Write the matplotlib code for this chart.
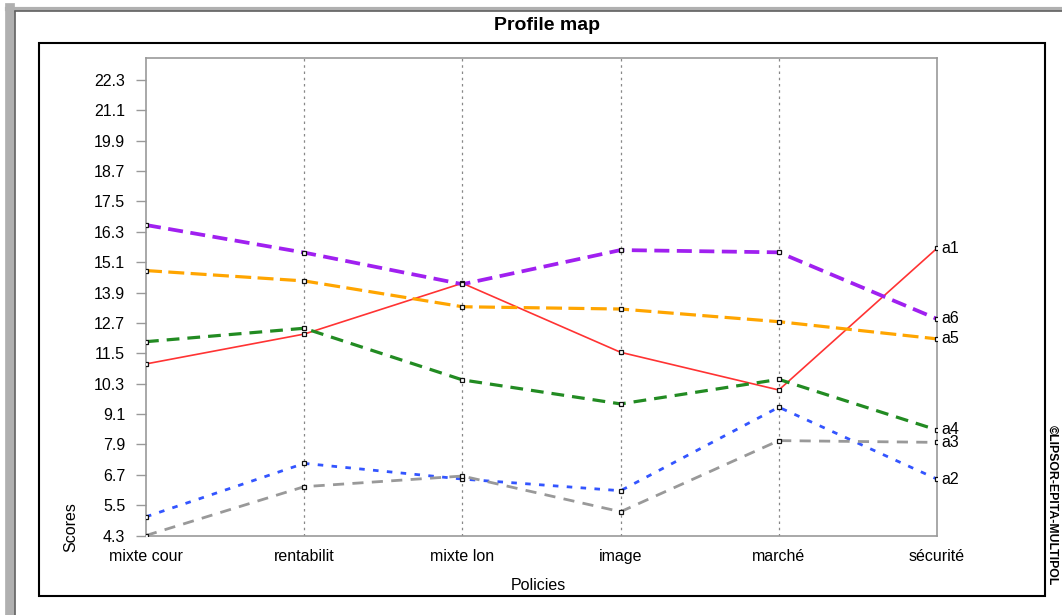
import matplotlib
matplotlib.use("Agg")
from matplotlib import pyplot as plt
from matplotlib.lines import Line2D
from matplotlib.patches import Rectangle

policies = ["mixte cour", "rentabilit", "mixte lon", "image", "marché", "sécurité"]
y_ticks = [4.3, 5.5, 6.7, 7.9, 9.1, 10.3, 11.5, 12.7, 13.9, 15.1, 16.3, 17.5, 18.7, 19.9, 21.1, 22.3]

a1 = [11.08, 12.26, 14.27, 11.54, 10.05, 15.65]
a2 = [5.04, 7.15, 6.53, 6.07, 9.37, 6.53]
a3 = [4.30, 6.23, 6.65, 5.24, 8.05, 7.98]
a4 = [11.96, 12.49, 10.45, 9.50, 10.47, 8.47]
a5 = [14.77, 14.36, 13.34, 13.25, 12.75, 12.07]
a6 = [16.57, 15.48, 14.23, 15.58, 15.49, 12.86]

plt.rcParams['font.family'] = ['Liberation Sans', 'DejaVu Sans']

fig = plt.figure(figsize=(10.62, 6.15), dpi=100)
ax = fig.add_axes([146 / 1062, 79.5 / 615, 791 / 1062, 477.5 / 615])

x = list(range(len(policies)))

# vertical dotted grid at the inner categories
for xi in x[1:-1]:
    ax.axvline(xi, color="#888888", lw=0.9, ls=(0, (2, 3)), zorder=1)

series = [
    ("a1", a1, "#ff3333", 1.2, "-"),
    ("a2", a2, "#3355ff", 2.0, (0, (2, 3))),
    ("a3", a3, "#999999", 2.0, (0, (4, 3))),
    ("a4", a4, "#228b22", 2.3, (0, (4, 2.5))),
    ("a5", a5, "#ffa500", 2.3, (0, (5, 2))),
    ("a6", a6, "#a020f0", 2.7, (0, (4, 2))),
]
for name, vals, col, lw, ls in series:
    ax.plot(x, vals, color=col, lw=lw, ls=ls, zorder=3)
    ax.plot(x, vals, ls="none", marker="s", ms=3.2, mfc="white", mec="#111111",
            mew=0.9, zorder=4)
    ax.text(x[-1] + 0.03, vals[-1], name, fontsize=11.5, va="center", ha="left",
            clip_on=False)

ax.set_xlim(0, 5)
ax.set_ylim(4.3, 23.17)
ax.set_xticks(x)
ax.set_xticklabels(policies, fontsize=11.5)
ax.set_yticks(y_ticks)
ax.set_yticklabels([f"{v:.1f}" for v in y_ticks], fontsize=11.5)
ax.tick_params(axis="y", length=7, color="#999999", width=1, pad=8)
ax.tick_params(axis="x", length=0, pad=10)
for s in ax.spines.values():
    s.set_color("#999999")
    s.set_linewidth(1.2)

fig.text(547 / 1062, 1 - 25 / 615, "Profile map", fontsize=14, fontweight="bold",
         ha="center", va="center")
fig.text(538 / 1062, 1 - 585 / 615, "Policies", fontsize=11.5, ha="center", va="center")
fig.text(71 / 1062, 1 - 527 / 615, "Scores", fontsize=11.5, ha="center", va="center",
         rotation=90)
fig.text(1052 / 1062, 1 - 505 / 615, "©LIPSOR-EPITA-MULTIPOL", fontsize=8.8,
         fontweight="bold", ha="center", va="center", rotation=-90)

# outer frame
fig.patches.append(Rectangle((39 / 1062, 19 / 615), 1006 / 1062, 553 / 615,
                             transform=fig.transFigure, fill=False, ec="black", lw=1.5))
# window border at left and top
fig.lines.append(Line2D([10 / 1062, 10 / 1062], [0, 1 - 8 / 615], transform=fig.transFigure,
                        color="#b0b0b0", lw=7))
fig.lines.append(Line2D([15 / 1062, 15 / 1062], [0, 1 - 11 / 615], transform=fig.transFigure,
                        color="#606060", lw=1.2))
fig.lines.append(Line2D([7 / 1062, 1], [1 - 9 / 615, 1 - 9 / 615], transform=fig.transFigure,
                        color="#b0b0b0", lw=3))
fig.lines.append(Line2D([15 / 1062, 1], [1 - 11 / 615, 1 - 11 / 615], transform=fig.transFigure,
                        color="#606060", lw=1.2))

fig.savefig("out.png", dpi=100)
